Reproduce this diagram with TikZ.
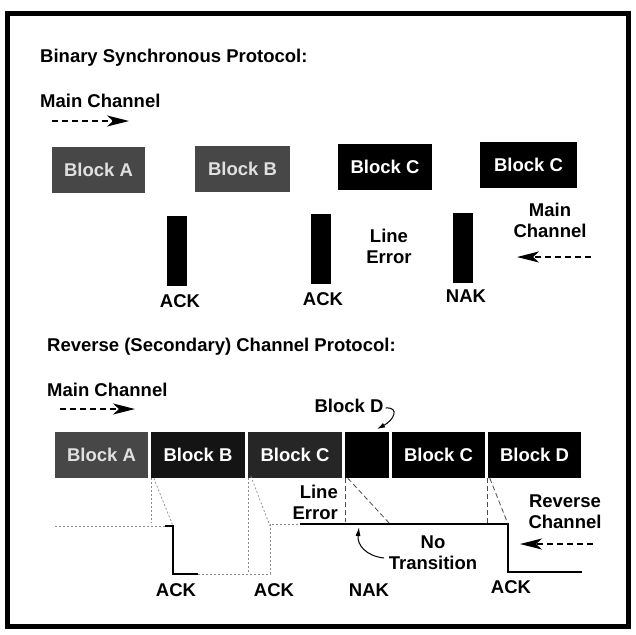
\documentclass[tikz,border=0pt]{standalone}
\usepackage{fontspec}
\setmainfont{Liberation Sans}
\usetikzlibrary{arrows.meta}
\begin{document}
\begin{tikzpicture}[x=1pt,y=-1pt,
  every node/.style={font=\fontsize{18.5}{21}\selectfont\bfseries, inner sep=0pt},
  blk/.style={fill=black, text=white, minimum height=46pt},
  grayblk/.style={blk, fill=black!72, text=black!12},
  bar/.style={fill=black, minimum width=20pt, minimum height=70pt},
  lbl/.style={align=center},
  flow/.style={dash pattern=on 6pt off 4pt, line width=1.3pt, -{Stealth[length=22pt,width=11pt,inset=6pt,sep=0pt]}},
  sig/.style={line width=1.1pt},
  faint/.style={black!45, line width=0.7pt, dash pattern=on 2pt off 2pt},
  guide/.style={black!70, line width=0.8pt, dash pattern=on 5pt off 3pt}]
\useasboundingbox (0,0) rectangle (636,634);
\fill[white] (0,0) rectangle (636,634);
\draw[line width=5pt] (7,14) rectangle (628,626);

% ---------- Binary Synchronous ----------
\node[anchor=west] (t1) at (40,58) {Binary Synchronous Protocol:};
\node[anchor=west] (mc1) at (40,101) {Main Channel};
\coordinate (a1s) at (52,121); \coordinate (a1e) at (129,121);
\draw[flow] (a1s) -- (a1e);

\node[grayblk, minimum width=93pt] (tA) at (98.5,170) {Block A};
\node[grayblk, minimum width=95pt] (tB) at (242.5,168.5) {Block B};
\node[blk, minimum width=94pt] (tC) at (385,167) {Block C};
\node[blk, minimum width=97pt] (tC2) at (528.5,164.5) {Block C};

\node[bar] (b1) at (177,251) {};
\node[bar] (b2) at (321,249) {};
\node[bar] (b3) at (462.5,247.5) {};

\node (k1) at (180,301) {ACK};
\node (k2) at (323,299) {ACK};
\node (k3) at (466,296) {NAK};
\node[lbl] (le1) at (389,246) {Line\\Error};
\node[lbl] (mc2) at (550,220) {Main\\Channel};
\coordinate (a2s) at (591,257); \coordinate (a2e) at (517,257);
\draw[flow] (a2s) -- (a2e);

% ---------- Reverse channel ----------
\node[anchor=west] (t2) at (47,347) {Reverse (Secondary) Channel Protocol:};
\node[anchor=west] (mc3) at (47,390) {Main Channel};
\coordinate (a3s) at (60,409); \coordinate (a3e) at (135,409);
\draw[flow] (a3s) -- (a3e);

\node (dl) at (349,406) {Block D};
\coordinate (dlend) at (377,429);
\draw[line width=1pt, -{Latex[length=8pt,width=5pt]}] ([xshift=2pt,yshift=-2pt]dl.east) .. controls (400,407) and (394,420) .. (dlend);

\node[grayblk, minimum width=93pt] (rA) at (101.5,455) {Block A};
\node[blk, minimum width=94pt, fill=black!92] (rB) at (198,455) {Block B};
\node[blk, minimum width=94pt, fill=black!85] (rC) at (295,455) {Block C};
\node[blk, minimum width=44pt] (rD) at (367,455) {};
\node[blk, minimum width=93pt] (rC2) at (438.5,455) {Block C};
\node[blk, minimum width=93pt] (rD2) at (534.5,455) {Block D};

% signal coordinates
\coordinate (s0) at (55,526);
\coordinate (s1) at (165,526);
\coordinate (s2) at (173,526);
\coordinate (s3) at (173,574);
\coordinate (s4) at (198,574);
\coordinate (s5) at (270,574);
\coordinate (s6) at (270,524);
\coordinate (s7) at (300,524);
\coordinate (s8) at (508,524);
\coordinate (s9) at (508,572);
\coordinate (s10) at (582,572);

\draw[faint] (s0) -- (s1);
\draw[sig] (s1) -- (s2) -- (s3) -- (s4);
\draw[faint] (s4) -- (s5) -- (s6) -- (s7);
\draw[sig] (s7) -- (s8) -- (s9) -- (s10);

% guide lines
\draw[faint] ([xshift=1pt]rB.south west) -- ++(0,45);
\draw[faint] ([xshift=3pt]rB.south west) -- (s2);
\draw[faint] ([xshift=1pt]rC.south west) -- ++(0,95);
\draw[faint] ([xshift=3pt,yshift=2pt]rC.south west) -- ([yshift=-2pt]s6);
\draw[guide] ([xshift=1pt]rD.south west) -- ++(0,44);
\draw[guide] ([xshift=3pt]rD.south west) -- (390,524);
\draw[guide] ([xshift=0pt]rD2.south west) -- ++(0,45);
\draw[guide] ([xshift=2pt]rD2.south west) -- (s8);

\node[align=right, anchor=east] (le2) at (338,502) {Line\\Error};
\node[lbl] (rc) at (565,512) {Reverse\\Channel};
\coordinate (a4s) at (593,544); \coordinate (a4e) at (520,544);
\draw[flow] (a4s) -- (a4e);
\node[lbl] (nt) at (433,553) {No\\Transition};
\coordinate (ntst) at (384,558);
\coordinate (nten) at (359,527);
\draw[line width=1pt, -{Latex[length=9pt,width=5pt]}] (ntst) .. controls (366,556) and (357,545) .. (nten);

\node (r1) at (176,590) {ACK};
\node (r2) at (274,590) {ACK};
\node (r3) at (369,590) {NAK};
\node (r4) at (511,587) {ACK};
\end{tikzpicture}
\end{document}
